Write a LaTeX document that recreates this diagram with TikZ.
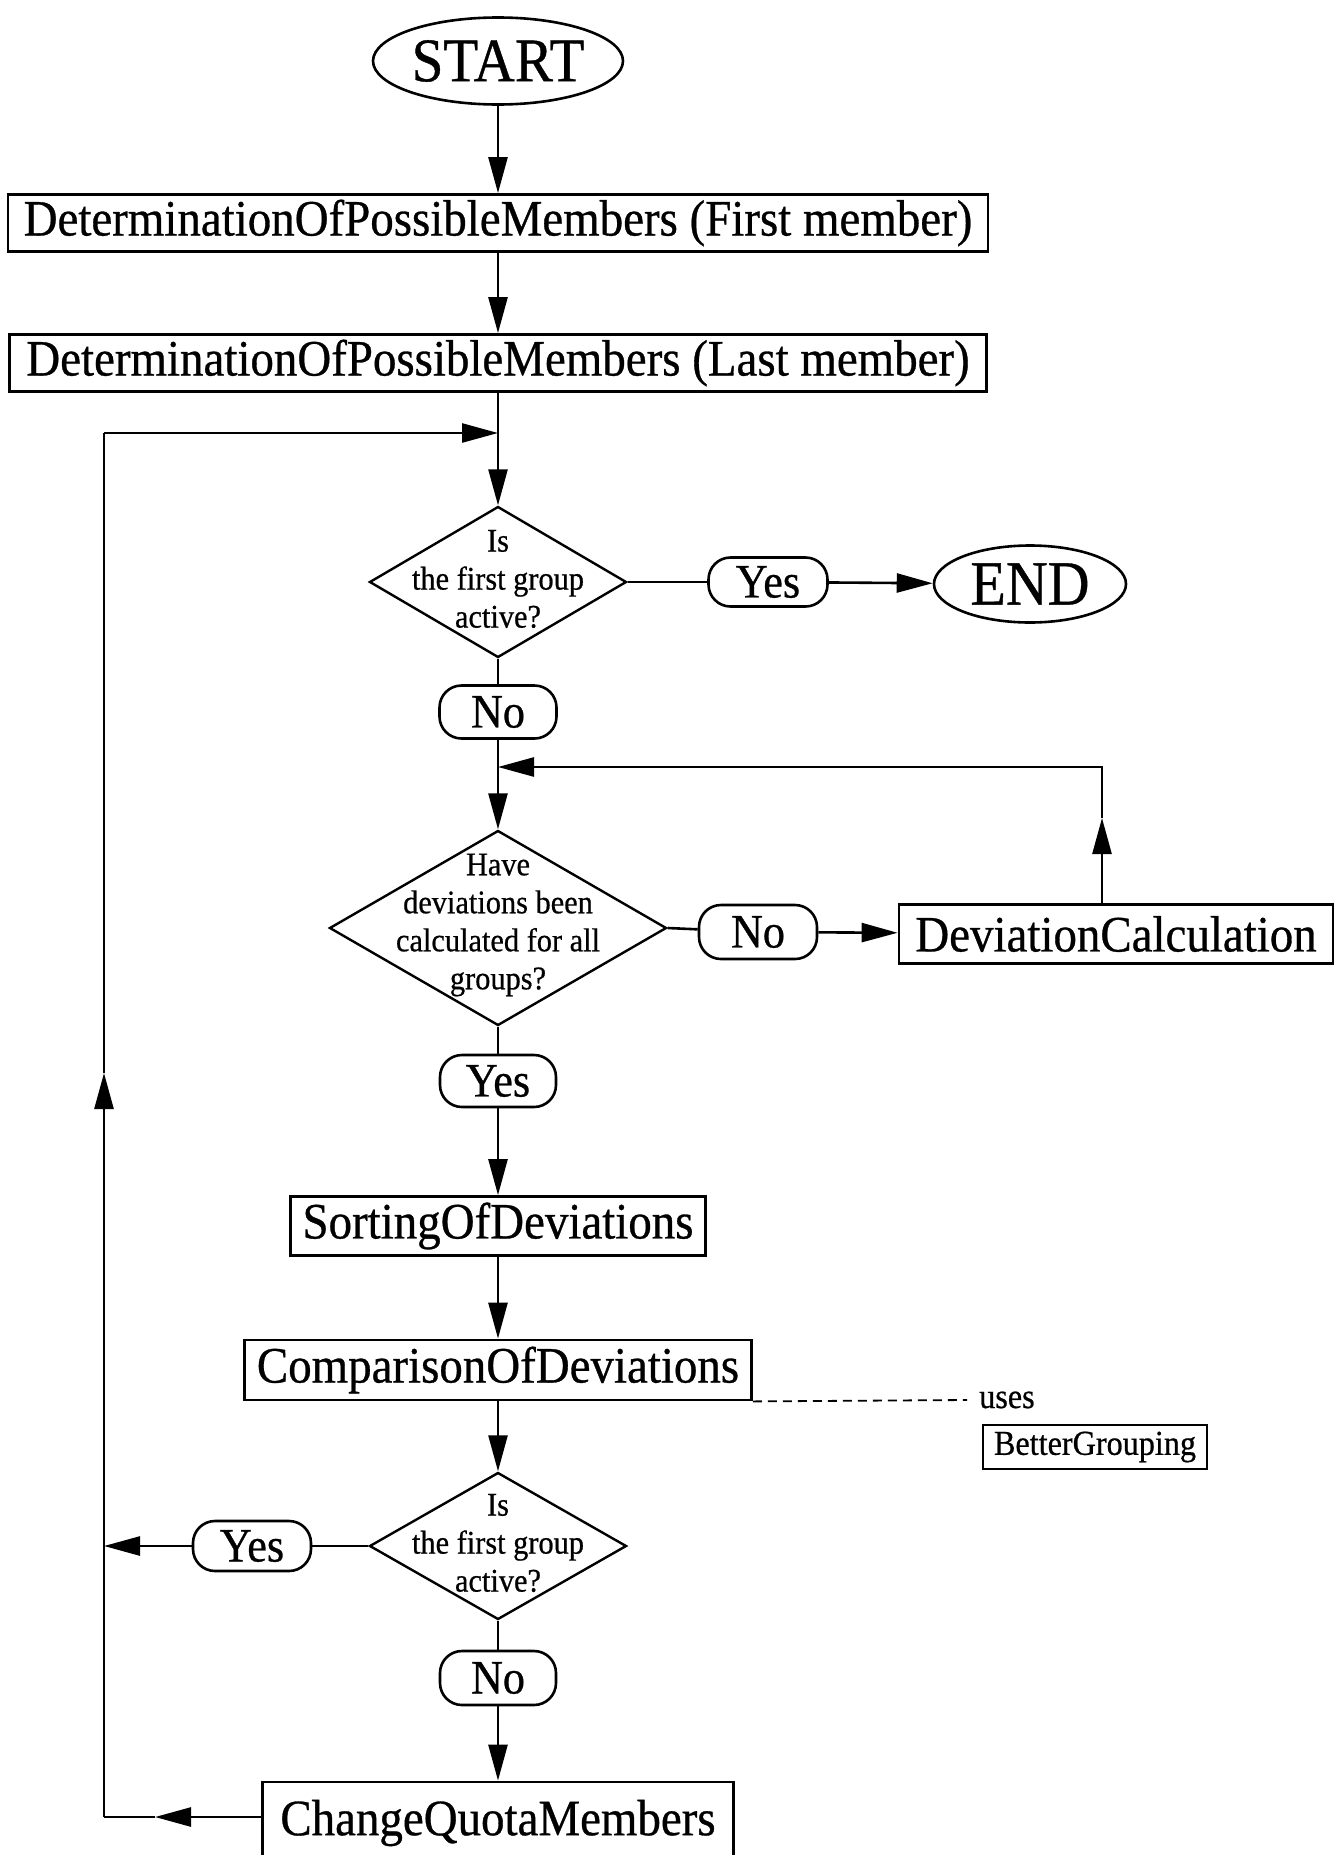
\documentclass[tikz,border=0pt]{standalone}
\usepackage{fontspec}
\setmainfont[FakeStretch=0.92,FakeBold=0.6]{Liberation Serif}
\usetikzlibrary{shapes.geometric,arrows.meta,calc}

\tikzset{
  flow/.style={line width=2.6pt},
  arr/.style={flow,-{Triangle[length=36pt,width=19pt]}},
  procbox/.style={draw,line width=2.8pt,inner sep=0pt,
    font=\fontsize{51pt}{56pt}\selectfont},
  smallbox/.style={draw,line width=2.4pt,inner sep=0pt,
    font=\fontsize{35pt}{39pt}\selectfont},
  terminal/.style={draw,ellipse,line width=2.6pt,inner sep=0pt},
  pill/.style={draw,line width=2.6pt,rounded corners=22pt,inner sep=0pt,
    font=\fontsize{48pt}{52pt}\selectfont},
  decision/.style={draw,diamond,line width=2.4pt,inner sep=0pt},
  dtext/.style={align=center,inner sep=0pt,
    font=\fontsize{33pt}{38pt}\selectfont},
  uselink/.style={line width=1.8pt,dash pattern=on 9pt off 6pt}
}

\begin{document}
\begin{tikzpicture}[x=1pt,y=-1pt]
\useasboundingbox (0,0) rectangle (1341,1855);

% main column
\node[terminal,minimum width=250pt,minimum height=87pt,
  font=\fontsize{62pt}{66pt}\selectfont] (start) at (498,61) {START};
\node[procbox,minimum width=980pt,minimum height=57pt] (b1) at (498,223)
  {DeterminationOfPossibleMembers (First member)};
\node[procbox,minimum width=977pt,minimum height=57pt] (b2) at (498,363)
  {DeterminationOfPossibleMembers (Last member)};

\node[decision,minimum width=257pt,minimum height=151pt] (d1) at (498,582) {};
\node[dtext] (d1t) at (498,579) {Is\\the first group\\active?};
\node[pill,minimum width=119pt,minimum height=49pt] (y1) at (768,582) {Yes};
\node[terminal,minimum width=192pt,minimum height=77pt,
  font=\fontsize{63pt}{67pt}\selectfont] (end) at (1030,584) {END};
\node[pill,minimum width=117pt,minimum height=53pt] (n1) at (498,712) {No};

\node[decision,minimum width=337pt,minimum height=195pt] (d2) at (498,928) {};
\node[dtext] (d2t) at (498,925)
  {Have\\deviations been\\calculated for all\\groups?};
\node[pill,minimum width=118pt,minimum height=54pt] (n2) at (758,932) {No};
\node[procbox,minimum width=434pt,minimum height=59pt] (dc) at (1116,934)
  {DeviationCalculation};
\node[pill,minimum width=116pt,minimum height=52pt] (y2) at (498,1081) {Yes};

\node[procbox,minimum width=415pt,minimum height=59pt] (sort) at (498,1226)
  {SortingOfDeviations};
\node[procbox,minimum width=507pt,minimum height=60pt] (cmp) at (498,1370)
  {ComparisonOfDeviations};
\node[anchor=base west,inner sep=0pt,font=\fontsize{35pt}{39pt}\selectfont]
  (uses) at (979,1408) {uses};
\node[smallbox,minimum width=224pt,minimum height=44pt] (bg) at (1095,1447)
  {BetterGrouping};

\node[decision,minimum width=257pt,minimum height=147pt] (d3) at (498,1546) {};
\node[dtext] (d3t) at (498,1543) {Is\\the first group\\active?};
\node[pill,minimum width=118pt,minimum height=50pt] (y3) at (252,1546) {Yes};
\node[pill,minimum width=116pt,minimum height=54pt] (n3) at (498,1678) {No};
\node[procbox,minimum width=471pt,minimum height=82pt] (cq) at (498,1823)
  {ChangeQuotaMembers};

% helper points of the two loops
\coordinate (bl) at (104,1817);
\coordinate (blTip) at (155,1817);
\coordinate (lUp) at (104,1073);
\coordinate (tl) at (104,433);
\coordinate (tr) at (498,433);
\coordinate (upTip) at (1102,818);
\coordinate (rj) at (498,767);
\coordinate (dashEnd) at (967,1400);

% straight flow
\draw[arr] (start) -- (b1);
\draw[arr] (b1) -- (b2);
\draw[arr] (b2) -- (d1);
\draw[flow] (d1.east) -- (y1);
\draw[arr] (y1) -- (end);
\draw[flow] (d1) -- (n1);
\draw[arr] (n1) -- (d2);
\draw[flow] (d2.east) -- (n2);
\draw[arr] (n2) -- (dc);
\draw[flow] (d2) -- (y2);
\draw[arr] (y2) -- (sort);
\draw[arr] (sort) -- (cmp);
\draw[arr] (cmp) -- (d3);
\draw[flow] (d3.west) -- (y3);
\draw[arr] (y3) -- (y3.west -| bl);
\draw[flow] (d3) -- (n3);
\draw[arr] (n3) -- (cq);

% inner loop back from DeviationCalculation
\draw[arr] (dc.north -| upTip) -- (upTip);
\draw[arr] (upTip) |- (rj);

% outer loop back from ChangeQuotaMembers
\draw[arr] (cq.west |- bl) -- (blTip);
\draw[flow] (blTip) -- (bl);
\draw[arr] (bl) -- (lUp);
\draw[flow] (lUp) -- (tl);
\draw[arr] (tl) -- (tr);

% "uses" relation
\draw[uselink] (cmp.south east) -- (dashEnd);
\end{tikzpicture}
\end{document}
